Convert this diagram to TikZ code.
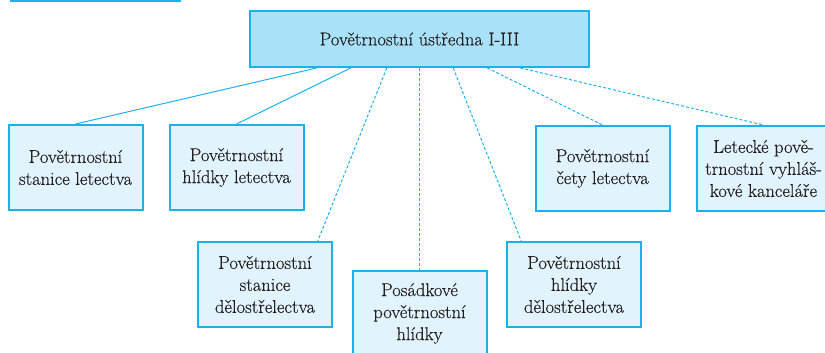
\documentclass[tikz,border=0pt]{standalone}
\usepackage{fontspec}
\newfontfamily\boxfont{Latin Modern Roman}[FakeBold=0.3]
\usetikzlibrary{calc}
\definecolor{edge}{HTML}{1DB1EC}
\definecolor{mainfill}{HTML}{A9E1F9}
\definecolor{subfill}{HTML}{E1F3FC}
\definecolor{txt}{HTML}{231F20}
\begin{document}
\begin{tikzpicture}[x=1pt,y=-1pt,
  mainbox/.style={draw=edge,line width=2pt,fill=mainfill,text=txt,minimum width=339pt,minimum height=56pt,inner sep=0pt,font=\boxfont\fontsize{18.5}{22}\selectfont},
  subbox/.style={draw=edge,line width=2pt,fill=subfill,text=txt,minimum width=134pt,minimum height=85pt,inner sep=0pt,align=center,font=\boxfont\fontsize{18.5}{22}\selectfont},
  solidlink/.style={draw=edge,line width=1pt},
  dashlink/.style={draw=edge,line width=1pt,dash pattern=on 3pt off 2pt}]
\useasboundingbox (0,0) rectangle (825,353);
\clip (0,0) rectangle (825,353);
\draw[edge,line width=2pt] (10,1) coordinate (tl) -- (181,1) coordinate (tr);
\node[mainbox] (main) at (419.5,39) {Povětrnostní ústředna I-III};
\node[subbox] (b1) at (75.5,167.5) {Povětrnostní\\stanice letectva};
\node[subbox] (b2) at (236.5,167.5) {Povětrnostní\\hlídky letectva};
\node[subbox] (b3) at (265,284.5) {Povětrnostní\\stanice\\dělostřelectva};
\node[subbox] (b4) at (419.5,313.5) {Posádkové\\povětrnostní\\hlídky};
\node[subbox] (b5) at (574,284.5) {Povětrnostní\\hlídky\\dělostřelectva};
\node[subbox] (b6) at (602.5,168.5) {Povětrnostní\\čety letectva};
\node[subbox] (b7) at (763.5,168.5) {Letecké pově-\\trnostní vyhláš-\\kové kanceláře};
\path[solidlink] ($(main.south west)!0.198!(main.south east)$) -- (b1.north);
\path[solidlink] ($(main.south west)!0.298!(main.south east)$) -- (b2.north);
\path[dashlink] ($(main.south west)!0.404!(main.south east)$) -- ($(b3.north west)!0.888!(b3.north east)$);
\path[dashlink] (main.south) -- (b4.north);
\path[dashlink] ($(main.south west)!0.599!(main.south east)$) -- ($(b5.north west)!0.112!(b5.north east)$);
\path[dashlink] ($(main.south west)!0.699!(main.south east)$) -- (b6.north);
\path[dashlink] ($(main.south west)!0.796!(main.south east)$) -- (b7.north);
\end{tikzpicture}
\end{document}
